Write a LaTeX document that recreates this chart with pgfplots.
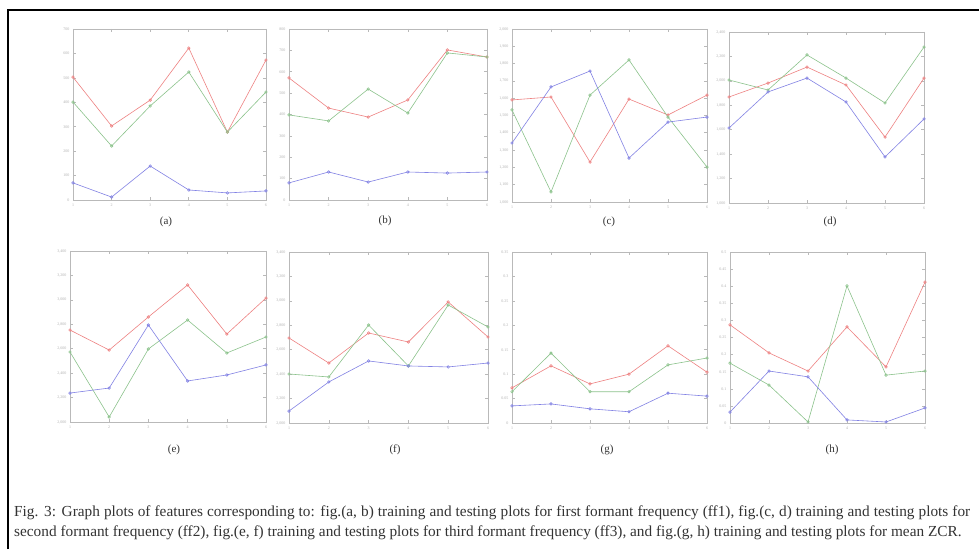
\documentclass[border=0pt]{standalone}
\usepackage{fontspec}
\setmainfont{Liberation Serif}
\usepackage{pgfplots}
\pgfplotsset{compat=1.18}

\definecolor{lred}{RGB}{238,130,130}
\definecolor{lgreen}{RGB}{140,195,140}
\definecolor{lblue}{RGB}{130,130,228}
\definecolor{axgray}{RGB}{185,185,185}

\pgfplotsset{
  sub/.style={
    scale only axis, anchor=south west,
    xmin=1, xmax=6, xtick={1,...,6},
    axis line style={axgray, line width=0.8pt},
    tick style={axgray, line width=0.6pt},
    major tick length=3pt,
    tick label style={font=\fontsize{4}{4}\selectfont, text=gray!60},
    /pgf/number format/assume math mode=true,
    scaled y ticks=false,
    every axis plot/.append style={line width=0.6pt, mark=o, mark size=1.3pt},
  },
  tr/.style={lred},
  te/.style={lgreen},
  tb/.style={lblue},
}

\begin{document}
\begin{tikzpicture}
\path[use as bounding box] (0,0) rectangle (979pt,549pt);
\fill[white] (0,0) rectangle (979pt,549pt);
\draw[line width=2pt] (8pt,0pt) -- (8pt,539pt) -- (979pt,539pt);

% (a) training ff1
\begin{axis}[sub, at={(73pt,349pt)}, width=193pt, height=171pt,
  ymin=0, ymax=700, ytick={0,100,...,700}]
\addplot[tr] coordinates {(1,503)(2,303)(3,409)(4,622)(5,278)(6,573)};
\addplot[te] coordinates {(1,401)(2,221)(3,385)(4,524)(5,278)(6,442)};
\addplot[tb] coordinates {(1,70)(2,12)(3,139)(4,41)(5,29)(6,37)};
\end{axis}

% (b) testing ff1
\begin{axis}[sub, at={(289pt,349pt)}, width=198pt, height=171pt,
  ymin=0, ymax=800, ytick={0,100,...,800}]
\addplot[tr] coordinates {(1,571)(2,430)(3,388)(4,468)(5,702)(6,669)};
\addplot[te] coordinates {(1,398)(2,370)(3,519)(4,407)(5,688)(6,669)};
\addplot[tb] coordinates {(1,80)(2,131)(3,84)(4,131)(5,126)(6,131)};
\end{axis}

% (c) training ff2
\begin{axis}[sub, at={(512pt,347pt)}, width=195pt, height=173pt,
  ymin=1000, ymax=2000, ytick={1000,1100,...,2000}]
\addplot[tr] coordinates {(1,1590)(2,1607)(3,1231)(4,1595)(5,1503)(6,1618)};
\addplot[te] coordinates {(1,1532)(2,1058)(3,1618)(4,1821)(5,1491)(6,1202)};
\addplot[tb] coordinates {(1,1341)(2,1665)(3,1757)(4,1254)(5,1462)(6,1491)};
\end{axis}

% (d) testing ff2
\begin{axis}[sub, at={(729pt,346pt)}, width=195pt, height=171pt,
  ymin=1000, ymax=2400, ytick={1000,1200,...,2400}]
\addplot[tr] coordinates {(1,1868)(2,1982)(3,2113)(4,1966)(5,1540)(6,2023)};
\addplot[te] coordinates {(1,2007)(2,1925)(3,2212)(4,2023)(5,1819)(6,2277)};
\addplot[tb] coordinates {(1,1614)(2,1909)(3,2023)(4,1827)(5,1377)(6,1688)};
\end{axis}

% (e) training ff3
\begin{axis}[sub, at={(70pt,127pt)}, width=196pt, height=171pt,
  ymin=2000, ymax=3400, ytick={2000,2200,...,3400}]
\addplot[tr] coordinates {(1,2753)(2,2589)(3,2860)(4,3122)(5,2720)(6,3015)};
\addplot[te] coordinates {(1,2573)(2,2041)(3,2598)(4,2835)(5,2565)(6,2696)};
\addplot[tb] coordinates {(1,2237)(2,2278)(3,2794)(4,2336)(5,2385)(6,2467)};
\end{axis}

% (f) testing ff3
\begin{axis}[sub, at={(289pt,126pt)}, width=199pt, height=171pt,
  ymin=2000, ymax=3400, ytick={2000,2200,...,3400}]
\addplot[tr] coordinates {(1,2696)(2,2491)(3,2737)(4,2663)(5,2991)(6,2704)};
\addplot[te] coordinates {(1,2401)(2,2377)(3,2802)(4,2467)(5,2966)(6,2786)};
\addplot[tb] coordinates {(1,2098)(2,2336)(3,2508)(4,2467)(5,2459)(6,2491)};
\end{axis}

% (g) training ZCR
\begin{axis}[sub, at={(512pt,126pt)}, width=195pt, height=171pt,
  ymin=0, ymax=0.35, ytick={0,0.05,...,0.36},
  yticklabel style={/pgf/number format/fixed, /pgf/number format/precision=2}]
\addplot[tr] coordinates {(1,0.072)(2,0.117)(3,0.080)(4,0.100)(5,0.158)(6,0.104)};
\addplot[te] coordinates {(1,0.064)(2,0.143)(3,0.064)(4,0.064)(5,0.119)(6,0.133)};
\addplot[tb] coordinates {(1,0.035)(2,0.039)(3,0.029)(4,0.023)(5,0.061)(6,0.055)};
\end{axis}

% (h) testing ZCR
\begin{axis}[sub, at={(730pt,126pt)}, width=195pt, height=171pt,
  ymin=0, ymax=0.5, ytick={0,0.05,...,0.51},
  yticklabel style={/pgf/number format/fixed, /pgf/number format/precision=2}]
\addplot[tr] coordinates {(1,0.287)(2,0.205)(3,0.152)(4,0.281)(5,0.164)(6,0.412)};
\addplot[te] coordinates {(1,0.175)(2,0.111)(3,0.003)(4,0.401)(5,0.140)(6,0.152)};
\addplot[tb] coordinates {(1,0.032)(2,0.152)(3,0.135)(4,0.009)(5,0.003)(6,0.044)};
\end{axis}

\begin{scope}[every node/.style={font=\fontsize{11}{11}\selectfont, text=black!80}]
\node at (166pt,327pt) {(a)};
\node at (385pt,328pt) {(b)};
\node at (609pt,327pt) {(c)};
\node at (830pt,327pt) {(d)};
\node at (174pt,99pt) {(e)};
\node at (395pt,99pt) {(f)};
\node at (607pt,99pt) {(g)};
\node at (832pt,99pt) {(h)};
\end{scope}

\node[anchor=north west, text width=956pt, align=justify, inner sep=0pt,
  font=\fontsize{15.3}{20}\selectfont, text=black!80] at (14pt,43pt)
  {Fig. 3: Graph plots of features corresponding to: fig.(a, b) training and testing plots for first formant frequency (ff1), fig.(c, d) training and testing plots for\linebreak second formant frequency (ff2), fig.(e, f) training and testing plots for third formant frequency (ff3), and fig.(g, h) training and testing plots for mean ZCR.};
\end{tikzpicture}
\end{document}
